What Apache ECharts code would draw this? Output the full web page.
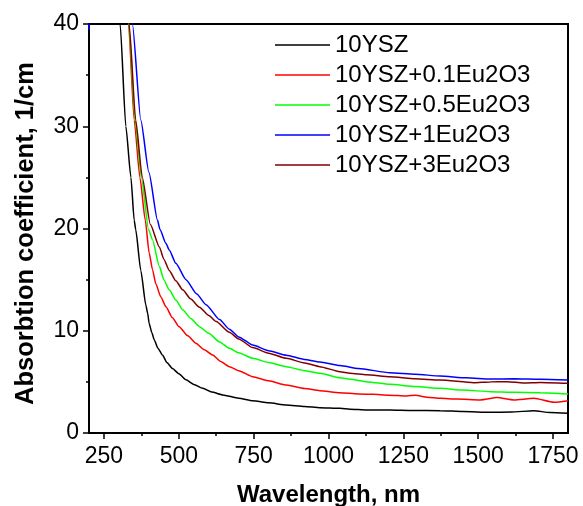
<!DOCTYPE html>
<html lang="en">
<head>
    <meta charset="utf-8">
    <title>Absorption coefficient</title>
    <script src="https://cdn.jsdelivr.net/npm/echarts@6.0.0/dist/echarts.min.js"></script>
    <style>
        html, body, #main {
            width: 100%;
            height: 100%;
            margin: 0;
            padding: 0;
            overflow: hidden;
            background-color: #ffffff;
        }
    </style>
</head>
<body>
<div id="main"></div>
<script>
    // [wavelength nm, absorption 1/cm]
    var ysz = [[295, 44], [304, 40], [323, 30], [340, 25], [351, 20.8], [356, 19.9], [373, 15.9], [390, 12.5],
        [396, 11.7], [401, 10.7], [410, 9.8], [418, 9.1], [430, 8.3], [446, 7.6], [460, 6.9], [479, 6.3],
        [500, 5.8], [524, 5.2], [550, 4.75], [580, 4.37], [610, 4.0], [647, 3.72], [700, 3.4], [747, 3.16],
        [800, 2.95], [859, 2.74], [920, 2.6], [971, 2.48], [1038, 2.41], [1072, 2.33], [1127, 2.25],
        [1205, 2.25], [1280, 2.2], [1373, 2.18], [1450, 2.1], [1541, 2.02], [1610, 2.05], [1686, 2.18],
        [1740, 2.0], [1800, 1.92]];
    var eu01 = [[320, 46], [332, 40], [351, 30.6], [370, 25], [388, 20.8], [401, 17.6], [412, 16], [423, 14.6],
        [440, 13.3], [457, 12.35], [478, 11.3], [501, 10.4], [530, 9.5], [557, 8.77], [585, 8.15], [613, 7.63],
        [640, 7.0], [669, 6.49], [700, 6.1], [747, 5.5], [800, 5.1], [859, 4.69], [920, 4.35], [971, 4.14],
        [1038, 3.94], [1100, 3.82], [1149, 3.78], [1200, 3.7], [1261, 3.62], [1290, 3.7], [1330, 3.5],
        [1373, 3.39], [1429, 3.32], [1507, 3.23], [1563, 3.46], [1619, 3.23], [1686, 3.39], [1753, 3.0],
        [1800, 3.16]];
    var eu05 = [[320, 46], [333, 40], [354, 30.6], [375, 25], [399, 19.9], [412, 18.9], [435, 16.3], [450, 15.0],
        [468, 14.0], [490, 13.0], [513, 12.05], [540, 11.2], [569, 10.4], [600, 9.75], [636, 8.9], [669, 8.28],
        [700, 7.85], [747, 7.3], [800, 6.9], [859, 6.49], [920, 6.1], [971, 5.84], [1038, 5.4], [1072, 5.25],
        [1130, 5.0], [1205, 4.76], [1290, 4.55], [1373, 4.37], [1450, 4.2], [1541, 4.04], [1620, 3.98],
        [1708, 3.94], [1800, 3.81]];
    var eu1 = [[200, 39.4], [203, 43], [204, '-'], [335, 46], [345, 40], [373, 30.6], [400, 25.5], [429, 20.8],
        [437, 19.9], [457, 18.55], [468, 17.9], [490, 16.6], [524, 15.0], [560, 13.6], [591, 12.55],
        [636, 11.1], [669, 10.15], [700, 9.4], [747, 8.6], [800, 8.05], [859, 7.6], [920, 7.2],
        [971, 6.95], [1038, 6.6], [1100, 6.3], [1205, 5.9], [1290, 5.75], [1373, 5.57], [1460, 5.4],
        [1541, 5.28], [1620, 5.3], [1708, 5.25], [1800, 5.18]];
    var eu3 = [[322, 46], [334, 40], [356, 30.6], [378, 25], [405, 20.4], [435, 18.2], [450, 17.0], [468, 15.9],
        [490, 14.9], [513, 14.0], [540, 13.1], [569, 12.3], [600, 11.5], [625, 10.9], [669, 9.85], [700, 9.2],
        [747, 8.35], [800, 7.8], [859, 7.3], [920, 6.85], [971, 6.49], [1038, 6.0], [1072, 5.84], [1127, 5.7],
        [1205, 5.5], [1290, 5.3], [1373, 5.18], [1485, 4.92], [1540, 5.0], [1597, 5.02], [1650, 4.9],
        [1708, 4.95], [1800, 4.86]];

    var names = ['10YSZ', '10YSZ+0.1Eu2O3', '10YSZ+0.5Eu2O3', '10YSZ+1Eu2O3', '10YSZ+3Eu2O3'];
    var colors = ['#000000', '#ff0000', '#00ff00', '#0000ff', '#800000'];
    var curves = [ysz, eu01, eu05, eu1, eu3];
    var xMajor = [250, 500, 750, 1000, 1250, 1500, 1750];
    var xMinor = [375, 625, 875, 1125, 1375, 1625];

    var font = 'Liberation Sans, Arial, sans-serif';
    var myChart = echarts.init(document.getElementById('main'));

    var series = [];
    for (var i = 0; i < curves.length; i++) {
        series.push({
            name: names[i],
            type: 'line',
            data: curves[i],
            symbol: 'none',
            smooth: 0.2,
            smoothMonotone: 'x',
            clip: true,
            lineStyle: {color: colors[i], width: 1.5},
            itemStyle: {color: colors[i]}
        });
    }

    var option = {
        animation: false,
        grid: {
            left: 89,
            top: 24,
            right: 15,
            bottom: 73,
            outerBoundsMode: 'none',
            show: true,
            borderColor: '#000',
            borderWidth: 2
        },
        legend: {
            orient: 'vertical',
            left: 275,
            top: 33,
            padding: 0,
            icon: 'rect',
            itemWidth: 55,
            itemHeight: 1.5,
            itemGap: 6,
            data: names,
            textStyle: {fontFamily: font, fontSize: 24, color: '#000'}
        },
        xAxis: [
            {
                type: 'value',
                min: 200,
                max: 1800,
                name: 'Wavelength, nm',
                nameLocation: 'middle',
                nameGap: 50,
                nameTextStyle: {fontFamily: font, fontSize: 24, fontWeight: 'bold', color: '#000'},
                splitLine: {show: false},
                axisLine: {lineStyle: {color: '#000', width: 2}},
                axisTick: {customValues: xMajor, length: 6, lineStyle: {color: '#000', width: 1.5}},
                axisLabel: {
                    customValues: xMajor, margin: 12, fontFamily: font, fontSize: 23, color: '#000',
                    formatter: function (v) { return String(v); }
                }
            },
            {
                type: 'value',
                min: 200,
                max: 1800,
                position: 'bottom',
                splitLine: {show: false},
                axisLine: {show: false},
                axisTick: {customValues: xMinor, length: 3, lineStyle: {color: '#000', width: 1.5}},
                axisLabel: {show: false}
            }
        ],
        yAxis: {
            type: 'value',
            min: 0,
            max: 40,
            interval: 10,
            name: 'Absorbtion coefficient, 1/cm',
            nameLocation: 'middle',
            nameGap: 50,
            nameTextStyle: {
                fontFamily: font, fontSize: 25.5, fontWeight: 'bold', color: '#000',
                padding: [0, 10, 0, 0]
            },
            splitLine: {show: false},
            axisLine: {show: true, lineStyle: {color: '#000', width: 2}},
            axisTick: {length: 6, lineStyle: {color: '#000', width: 1.5}},
            minorTick: {show: true, splitNumber: 2, length: 3, lineStyle: {color: '#000', width: 1.5}},
            axisLabel: {margin: 10, fontFamily: font, fontSize: 23, color: '#000'}
        },
        series: series
    };
    myChart.setOption(option);
</script>
</body>
</html>
